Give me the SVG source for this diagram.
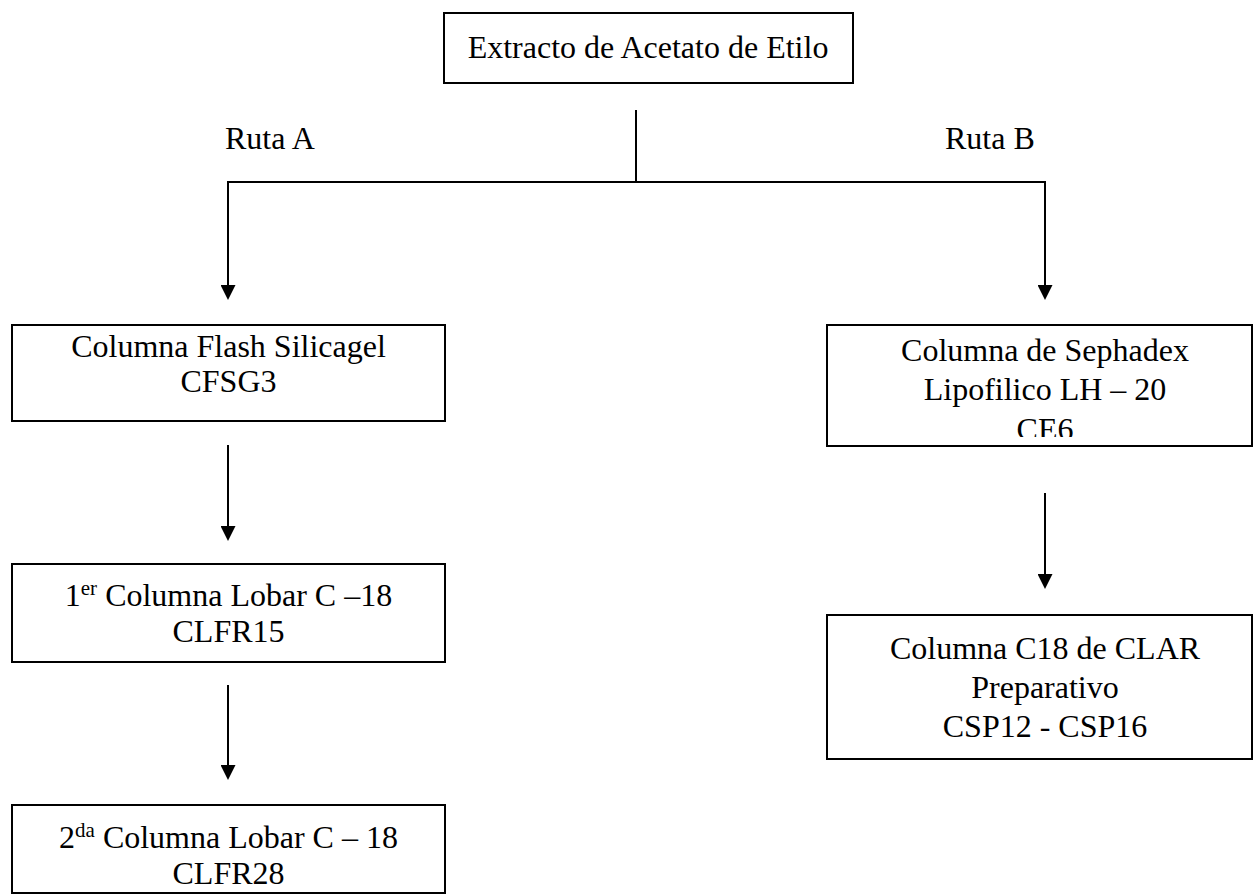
<svg xmlns="http://www.w3.org/2000/svg" width="1253" height="896" viewBox="0 0 1253 896">
<style>
.box{fill:#fff;stroke:#000;stroke-width:2}
.t{font-family:"Liberation Serif","Times New Roman",serif;font-size:32px;fill:#000}
.c{text-anchor:middle}
.con{fill:none;stroke:#000;stroke-width:2}
.sup{font-size:21px}
</style>
<defs>
<marker id="ah" markerUnits="userSpaceOnUse" markerWidth="15" markerHeight="15" refX="9" refY="7.5" orient="auto">
<path d="M0,0 L15,7.5 L0,15 z" fill="#000"/>
</marker>
<clipPath id="clipSeph"><rect x="827" y="325" width="426" height="112"/></clipPath>
</defs>
<g id="connectors">
<path class="con" d="M636,110 V182"/>
<path class="con" d="M228,182 H1045"/>
<path class="con" d="M228,181 V294" marker-end="url(#ah)"/>
<path class="con" d="M1045,181 V294" marker-end="url(#ah)"/>
<path class="con" d="M228,445 V535" marker-end="url(#ah)"/>
<path class="con" d="M228,685 V774" marker-end="url(#ah)"/>
<path class="con" d="M1045,493 V583" marker-end="url(#ah)"/>
</g>
<g id="labels">
<text class="t" x="225" y="149">Ruta A</text>
<text class="t" x="945" y="149">Ruta B</text>
</g>
<g id="n-extracto">
<rect class="box" x="444" y="13" width="409" height="70"/>
<text class="t c" x="648" y="58">Extracto de Acetato de Etilo</text>
</g>
<g id="n-flash">
<rect class="box" x="12" y="325" width="433" height="96"/>
<text class="t c" x="228.5" y="357">Columna Flash Silicagel</text>
<text class="t c" x="228.5" y="392">CFSG3</text>
</g>
<g id="n-lobar1">
<rect class="box" x="12" y="564" width="433" height="98"/>
<text class="t c" x="228.5" y="606">1<tspan class="sup" dy="-11">er</tspan><tspan dy="11"> Columna Lobar C –18</tspan></text>
<text class="t c" x="228.5" y="642">CLFR15</text>
</g>
<g id="n-lobar2">
<rect class="box" x="12" y="805" width="433" height="88"/>
<text class="t c" x="228.5" y="848">2<tspan class="sup" dy="-11">da</tspan><tspan dy="11"> Columna Lobar C – 18</tspan></text>
<text class="t c" x="228.5" y="884">CLFR28</text>
</g>
<g id="n-sephadex">
<rect class="box" x="827" y="325" width="425" height="121"/>
<g clip-path="url(#clipSeph)">
<text class="t c" x="1045" y="361">Columna de Sephadex</text>
<text class="t c" x="1045" y="400">Lipofilico LH – 20</text>
<text class="t c" x="1045" y="440">CE6</text>
</g>
</g>
<g id="n-clar">
<rect class="box" x="827" y="615" width="425" height="144"/>
<text class="t c" x="1045" y="659">Columna C18 de CLAR</text>
<text class="t c" x="1045" y="698">Preparativo</text>
<text class="t c" x="1045" y="737">CSP12 - CSP16</text>
</g>
</svg>
